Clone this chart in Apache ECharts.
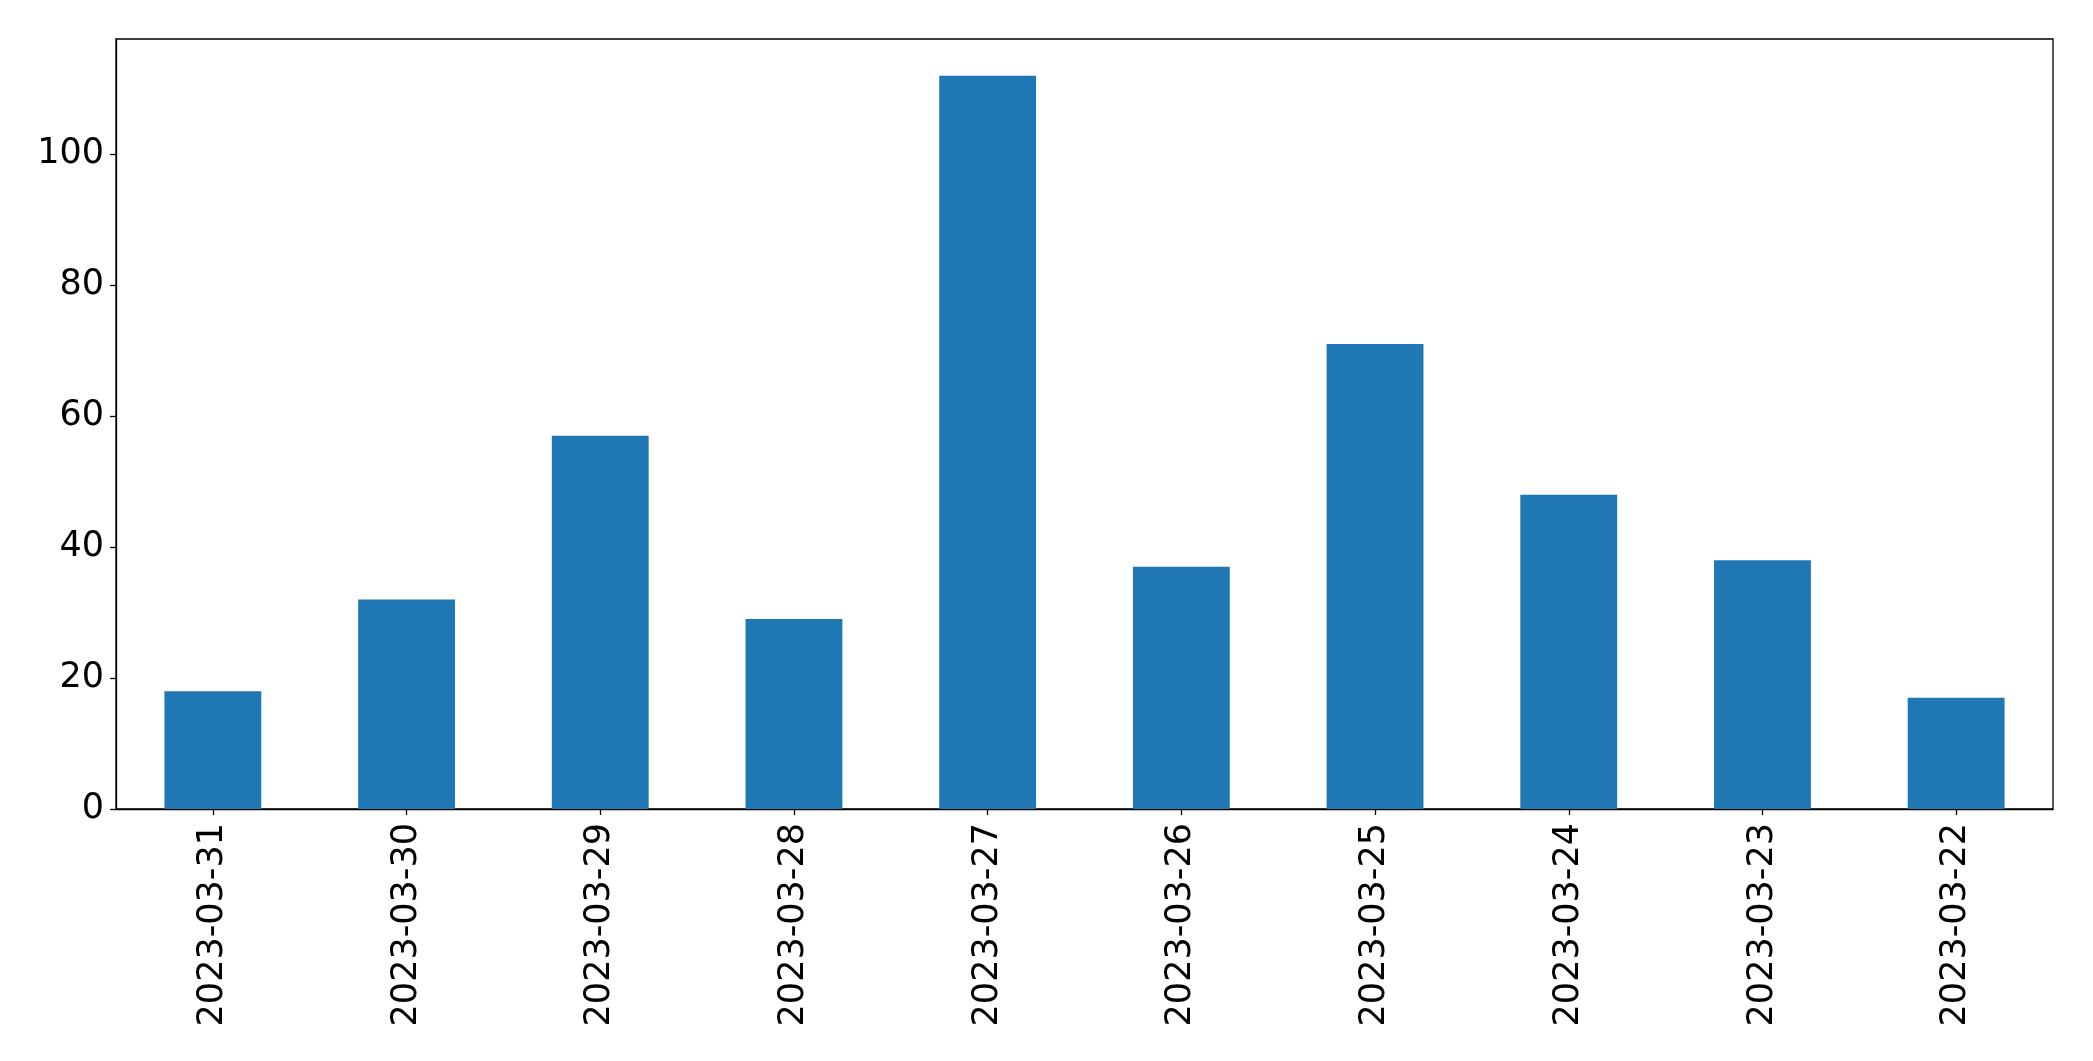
<!DOCTYPE html>
<html>
<head>
<meta charset="utf-8">
<script src="https://cdn.jsdelivr.net/npm/echarts@6/dist/echarts.min.js"></script>
<style>
html,body{margin:0;padding:0;background:#fff;}
#chart{width:2093px;height:1061px;}
</style>
</head>
<body>
<div id="chart"></div>
<script>
const categories = ["2023-03-31","2023-03-30","2023-03-29","2023-03-28","2023-03-27","2023-03-26","2023-03-25","2023-03-24","2023-03-23","2023-03-22"];
const values = [18, 32, 57, 29, 112, 37, 71, 48, 38, 17];
const yTicks = [0, 20, 40, 60, 80, 100];

const chart = echarts.init(document.getElementById('chart'), null, {renderer: 'canvas'});
const font = 'DejaVu Sans';
chart.setOption({
  animation: false,
  backgroundColor: '#fff',
  grid: {left: 116, right: 40, top: 39, bottom: 252, show: true, borderColor: '#000', borderWidth: 1.3, backgroundColor: 'transparent'},
  xAxis: {
    type: 'category',
    data: categories,
    axisLine: {show: true, lineStyle: {color: '#000', width: 1.3}},
    axisTick: {show: true, alignWithLabel: true, length: 6, lineStyle: {color: '#000', width: 1.3}},
    axisLabel: {rotate: 90, color: '#000', fontFamily: font, fontSize: 35, margin: 14, interval: 0},
    splitLine: {show: false}
  },
  yAxis: {
    type: 'value',
    min: 0,
    max: 117.6,
    interval: 20,
    axisLine: {show: true, lineStyle: {color: '#000', width: 1.3}},
    axisTick: {show: true, length: 6, customValues: yTicks, lineStyle: {color: '#000', width: 1.3}},
    axisLabel: {color: '#000', fontFamily: font, fontSize: 35, margin: 12, customValues: yTicks},
    splitLine: {show: false}
  },
  series: [{
    type: 'bar',
    data: values,
    barWidth: '50%',
    itemStyle: {color: '#1f77b4'}
  }]
});
</script>
</body>
</html>
